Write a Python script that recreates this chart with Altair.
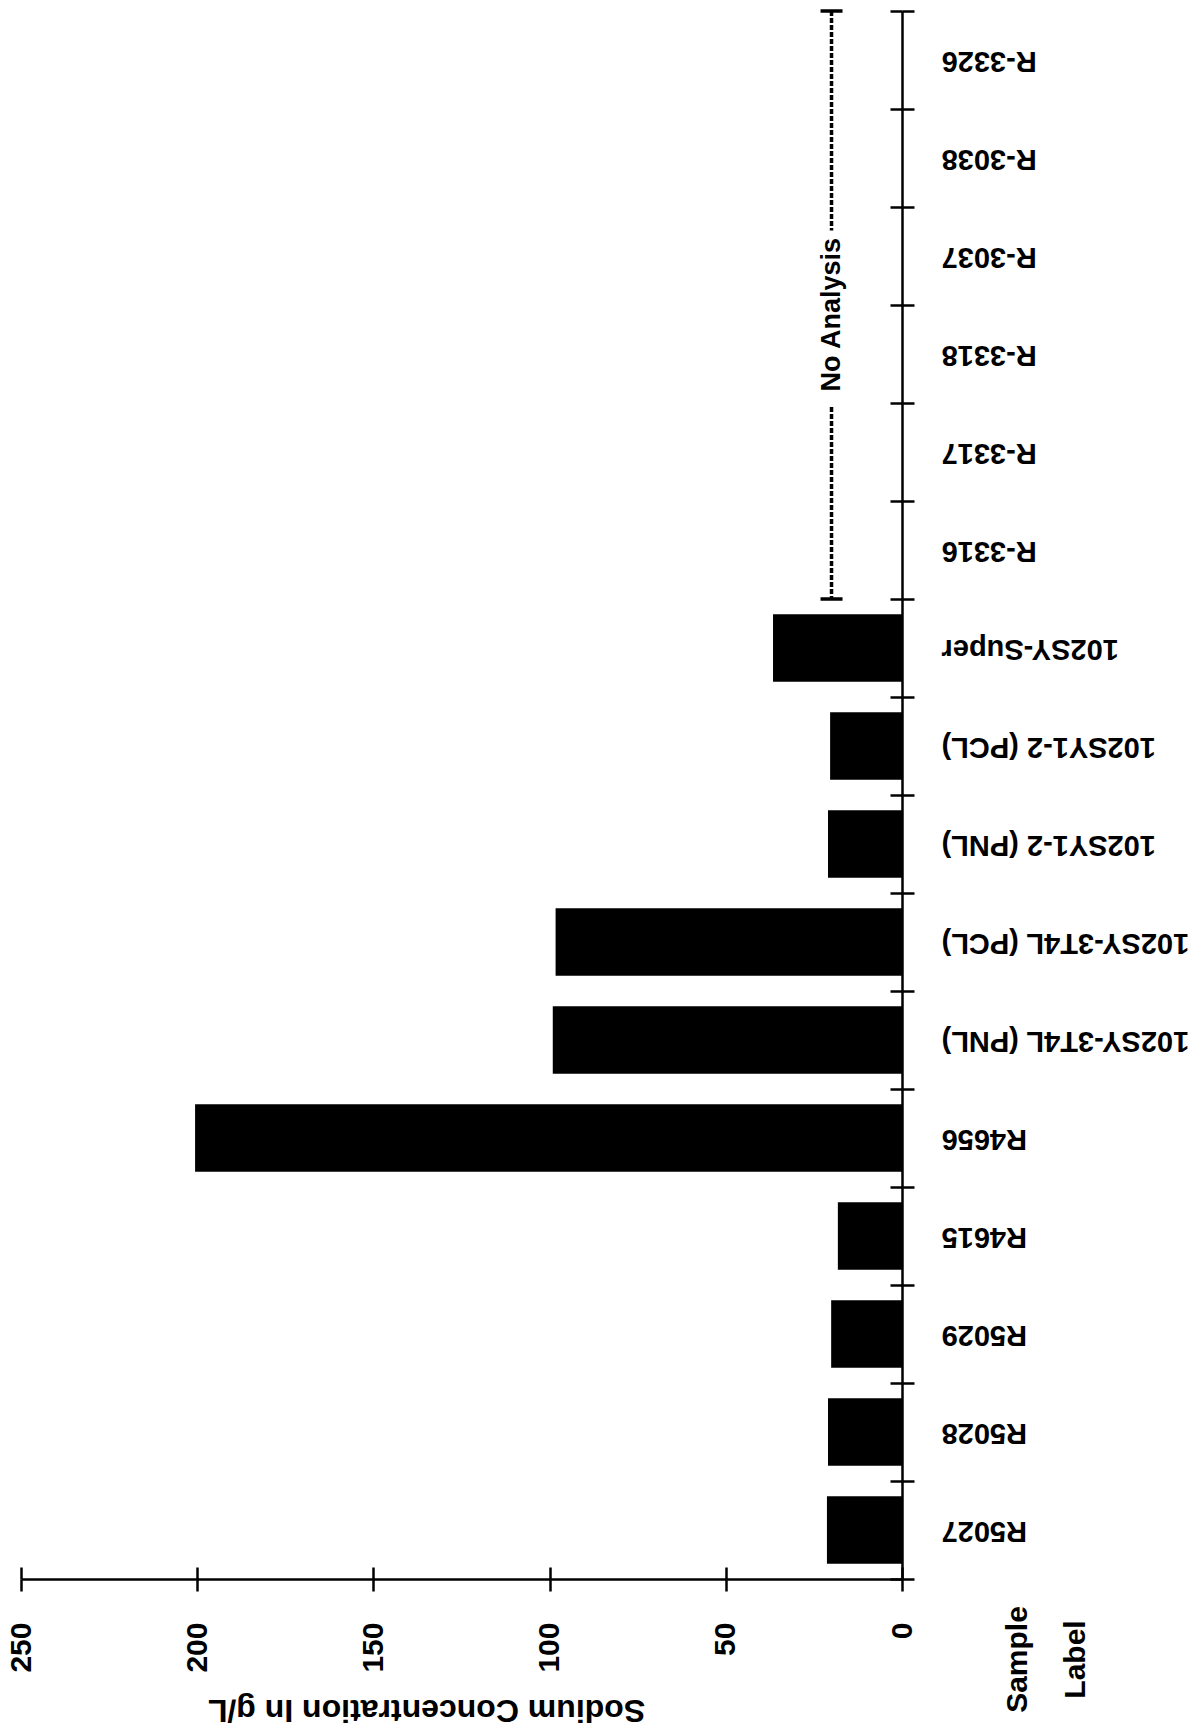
import altair as alt
import pandas as pd

# Samples listed from the top of the category axis to the bottom
samples = [
    "R-3326", "R-3038", "R-3037", "R-3318", "R-3317", "R-3316",
    "102SY-Super", "102SY1-2 (PCL)", "102SY1-2 (PNL)",
    "102SY-3T4L (PCL)", "102SY-3T4L (PNL)",
    "R4656", "R4615", "R5029", "R5028", "R5027",
]
# Sodium concentration in g/L (None = not analysed)
sodium = [
    None, None, None, None, None, None,
    36.6, 20.4, 21.0,
    98.3, 99.1,
    200.6, 18.2, 20.1, 21.0, 21.3,
]
value_ticks = [0, 50, 100, 150, 200, 250]

# Samples without analysis, marked by a dashed bracket
no_analysis = ["R-3316", "R-3317", "R-3318", "R-3037", "R-3038", "R-3326"]
note_text = "No Analysis"
note_level = 20

FONT = "Liberation Sans"

df = pd.DataFrame({"sample": samples, "sodium": sodium})
measured = df.dropna()

first_na = samples[min(samples.index(s) for s in no_analysis)]
last_na_idx = max(samples.index(s) for s in no_analysis)
after_na = samples[last_na_idx + 1]
mid_na = samples[(samples.index(first_na) + last_na_idx + 1) // 2]

note_df = pd.DataFrame({
    "start": [first_na], "end": [samples[last_na_idx]],
    "mid": [mid_na], "before_mid": [samples[samples.index(mid_na) - 1]],
    "after_mid": [samples[samples.index(mid_na) + 1]],
    "level": [note_level], "label": [note_text],
})
caps_df = pd.DataFrame({"edge": [first_na, after_na], "level": [note_level] * 2})

y_scale = alt.Scale(domain=samples, paddingInner=0, paddingOuter=0)
x_scale = alt.Scale(domain=[0, 250], reverse=True, nice=False, zero=True)

x_axis_main = alt.Axis(
    orient="bottom", values=value_ticks, grid=False,
    domainColor="black", domainWidth=2.5,
    tickColor="black", tickWidth=2.5, tickSize=12,
    labelAngle=270, labelAlign="right", labelBaseline="middle",
    labelFont=FONT, labelFontSize=30, labelFontWeight="bold", labelColor="black",
    labelPadding=31, labelFlush=False, labelOverlap=False,
    title="Sodium Concentration In g/L", titleFont=FONT, titleFontSize=32,
    titleFontWeight="bold", titleColor="black", titleAngle=180,
    titleAlign="center", titleBaseline="middle", titleX=405, titleY=130,
)
y_axis_main = alt.Axis(
    orient="right", grid=False,
    domainColor="black", domainWidth=2.5,
    tickBand="extent", tickColor="black", tickWidth=2.5, tickSize=12,
    labelAngle=180, labelAlign="right", labelBaseline="middle",
    labelFont=FONT, labelFontSize=29, labelFontWeight="bold", labelColor="black",
    labelPadding=27, labelLimit=500, labelOverlap=False,
    title=["Sample", "Label"], titleFont=FONT, titleFontSize=30,
    titleFontWeight="bold", titleColor="black", titleAngle=270,
    titleAlign="center", titleBaseline="middle", titleLineHeight=58,
    titleX=115, titleY=1648,
)
# Inner halves of the crossing tick marks
x_axis_inner = alt.Axis(
    orient="bottom", values=value_ticks, offset=-12, grid=False,
    domain=False, labels=False, tickColor="black", tickWidth=2.5, tickSize=12,
    title="",
)
y_axis_inner = alt.Axis(
    orient="right", offset=-12, grid=False, tickBand="extent",
    domain=False, labels=False, tickColor="black", tickWidth=2.5, tickSize=12,
    title="",
)

bars = alt.Chart(measured).mark_bar(
    color="black", height=alt.RelativeBandSize(0.69)
).encode(
    x=alt.X("sodium:Q", scale=x_scale, axis=x_axis_main),
    y=alt.Y("sample:N", scale=y_scale, sort=samples, axis=y_axis_main),
)

inner_ticks = alt.Chart(measured).mark_point(opacity=0).encode(
    x=alt.X("sodium:Q", scale=x_scale, axis=x_axis_inner),
    y=alt.Y("sample:N", scale=y_scale, sort=samples, axis=y_axis_inner),
)

dash_style = dict(color="black", opacity=1, strokeWidth=3.5, strokeDash=[5, 2])

upper_dash = alt.Chart(note_df).mark_rule(**dash_style).encode(
    x=alt.X("level:Q", scale=x_scale, axis=None),
    y=alt.Y("start:N", scale=y_scale, axis=None, bandPosition=0),
    y2=alt.Y2("before_mid:N", bandPosition=0.24),
)
lower_dash = alt.Chart(note_df).mark_rule(**dash_style).encode(
    x=alt.X("level:Q", scale=x_scale, axis=None),
    y=alt.Y("after_mid:N", scale=y_scale, axis=None, bandPosition=0.04),
    y2=alt.Y2("end:N", bandPosition=1),
)
caps = alt.Chart(caps_df).mark_tick(
    color="black", opacity=1, orient="horizontal", size=22, thickness=3.5
).encode(
    x=alt.X("level:Q", scale=x_scale, axis=None),
    y=alt.Y("edge:N", scale=y_scale, axis=None, bandPosition=0),
)
note = alt.Chart(note_df).mark_text(
    angle=270, align="center", baseline="middle", font=FONT,
    fontSize=27, fontWeight="bold", color="black",
).encode(
    x=alt.X("level:Q", scale=x_scale, axis=None),
    y=alt.Y("mid:N", scale=y_scale, axis=None, bandPosition=0.1),
    text="label:N",
)

chart = alt.layer(
    bars, inner_ticks, upper_dash, lower_dash, caps, note
).resolve_axis(
    x="independent", y="independent"
).properties(
    width=881, height=1568,
    padding={"left": 21, "top": 11, "right": 291, "bottom": 151},
    autosize=alt.AutoSizeParams(type="none"),
    background="white",
).configure_view(stroke=None)

chart.save("out.html", embed_options={"renderer": "svg", "actions": False})
